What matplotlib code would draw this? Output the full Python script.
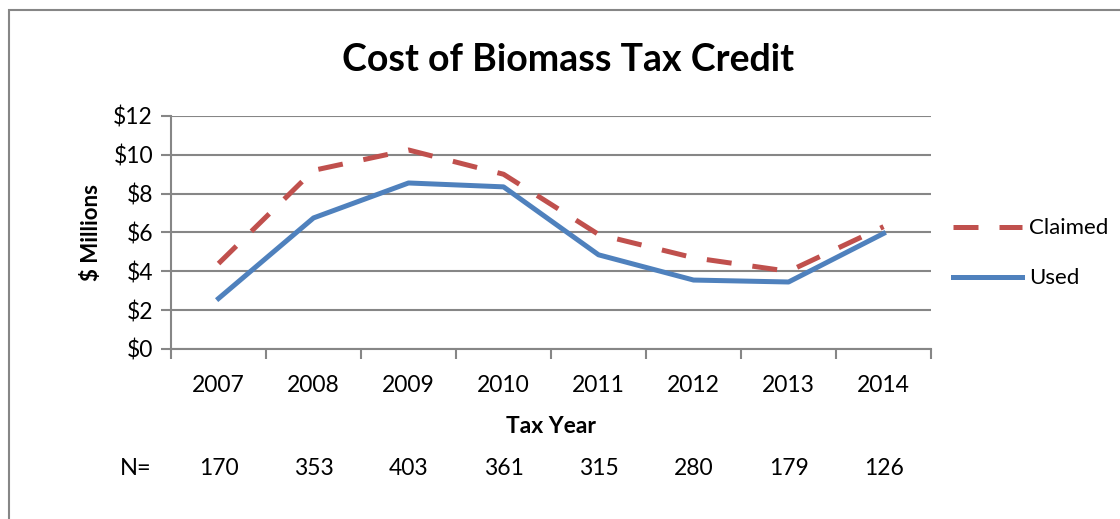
import numpy as np
import matplotlib.pyplot as plt
from matplotlib.patches import Rectangle
from matplotlib.transforms import blended_transform_factory

years = ['2007', '2008', '2009', '2010', '2011', '2012', '2013', '2014']
claimed = [4.4, 9.2, 10.25, 9.0, 5.9, 4.7, 4.0, 6.3]
used = [2.6, 6.75, 8.55, 8.35, 4.85, 3.55, 3.45, 5.95]
n_counts = ['170', '353', '403', '361', '315', '280', '179', '126']
y_ticks = [0, 2, 4, 6, 8, 10, 12]

plt.rcParams['font.family'] = ['Lato', 'DejaVu Sans']
grey = '#868686'

fig = plt.figure(figsize=(11.2, 5.19), dpi=100)
ax = fig.add_axes([0.1527, 0.3276, 0.6786, 0.4489])

x = np.arange(len(years))
ax.plot(x, claimed, color='#C0504D', linewidth=3.6, linestyle=(0, (5, 4.2)),
        dash_capstyle='butt', label='Claimed')
ax.plot(x, used, color='#4F81BD', linewidth=3.6, label='Used')

ax.set_xlim(-0.5, len(years) - 0.5)
ax.set_ylim(0, 12)
ax.set_yticks(y_ticks)
ax.set_yticklabels([f'${v}' for v in y_ticks])
ax.set_xticks(np.arange(-0.5, len(years)))
ax.set_xticklabels([])
ax.set_xticks(x, minor=True)
ax.set_xticklabels(years, minor=True)
ax.tick_params(axis='x', which='major', length=7, width=1.5, color=grey)
ax.tick_params(axis='x', which='minor', length=0, pad=19, labelsize=16.5)
ax.tick_params(axis='y', length=7, width=1.5, color=grey, labelsize=16.5, pad=6)
ax.grid(axis='y', color=grey, linewidth=1.5)
ax.set_axisbelow(True)
for s in ['top', 'right']:
    ax.spines[s].set_visible(False)
for s in ['left', 'bottom']:
    ax.spines[s].set_color(grey)
    ax.spines[s].set_linewidth(1.5)

ax.set_ylabel('$ Millions', fontsize=16, fontweight='bold', labelpad=8)
ax.set_xlabel('Tax Year', fontsize=16.5, fontweight='bold', labelpad=14)
fig.text(0.507, 0.885, 'Cost of Biomass Tax Credit', ha='center', va='center',
         fontsize=27, fontweight='bold')

# N row under the axis
tr = blended_transform_factory(ax.transData, fig.transFigure)
fig.text(0.121, 0.098, 'N=', ha='center', va='center', fontsize=17)
for xi, n in zip(x, n_counts):
    ax.text(xi, 0.098, n, transform=tr, ha='center', va='center', fontsize=16.5)

ax.legend(loc='center left', bbox_to_anchor=(1.029, 0.41), frameon=False,
          fontsize=16, handlelength=3.1, handletextpad=0.3, labelspacing=1.35,
          borderpad=0, borderaxespad=0)

# outer chart frame
fig.patches.append(Rectangle((0.008, -0.1), 1.2, 1.08, transform=fig.transFigure,
                             fill=False, edgecolor=grey, linewidth=1.5))

fig.savefig('out.png', dpi=100)
